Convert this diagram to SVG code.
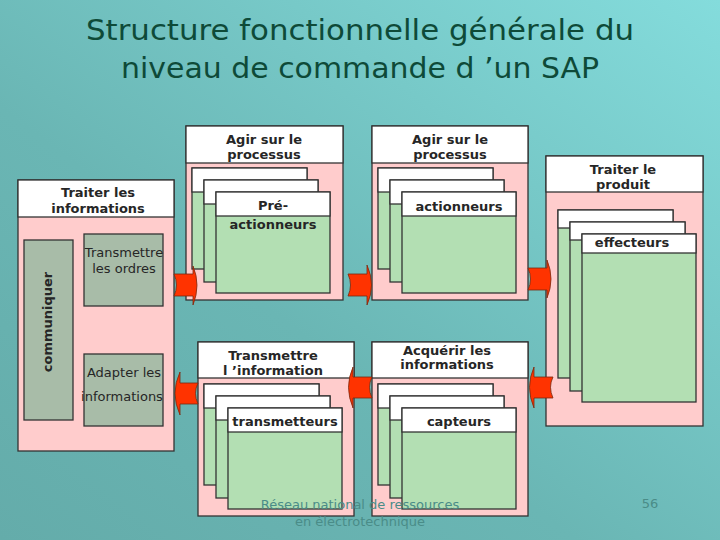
<svg xmlns="http://www.w3.org/2000/svg" width="720" height="540" viewBox="0 0 720 540">
<defs>
<linearGradient id="bg" x1="1" y1="0" x2="0" y2="1">
<stop offset="0" stop-color="#84dcdc"/>
<stop offset="0.6" stop-color="#6ab6b4"/>
<stop offset="1" stop-color="#64acaa"/>
</linearGradient>
<style>
.panel{fill:#ffcccc;stroke:#333;stroke-width:1.3}
.hdr{fill:#ffffff;stroke:#333;stroke-width:1.3}
.card{fill:#b3dfb3;stroke:#333;stroke-width:1.3}
.gray{fill:#a8bca8;stroke:#333;stroke-width:1.3}
.arrow{fill:#ff3300;stroke:#7a2a10;stroke-width:0.8}
text{font-family:"DejaVu Sans","Liberation Sans",sans-serif;fill:#262626}
.h{font-size:13px;font-weight:bold;text-anchor:middle}
.n{font-size:13px;text-anchor:middle}
.t{font-size:29px;fill:#0e4a38;text-anchor:middle}
.f{font-size:13px;fill:#4a8c88;text-anchor:middle}
</style>
<g id="cards">
<rect class="card" x="0" y="0" width="115" height="101"/>
<rect class="hdr" x="0" y="0" width="115" height="24"/>
<rect class="card" x="12" y="12" width="114" height="102"/>
<rect class="hdr" x="12" y="12" width="114" height="24"/>
<rect class="card" x="24" y="24" width="114" height="101"/>
<rect class="hdr" x="24" y="24" width="114" height="24"/>
</g>
</defs>
<rect width="720" height="540" fill="url(#bg)"/>
<text class="t" x="360" y="40" textLength="548" lengthAdjust="spacingAndGlyphs">Structure fonctionnelle générale du</text>
<text class="t" x="360" y="78" textLength="478" lengthAdjust="spacingAndGlyphs">niveau de commande d ’un SAP</text>

<g id="traiter-informations">
<rect class="panel" x="18" y="180" width="156" height="271"/>
<rect class="hdr" x="18" y="180" width="156" height="37"/>
<text class="h" x="98" y="197">Traiter les</text>
<text class="h" x="98" y="213">informations</text>
<rect class="gray" x="24" y="240" width="49" height="180"/>
<text class="h" transform="translate(52,322) rotate(-90)">communiquer</text>
<rect class="gray" x="84" y="234" width="79" height="72"/>
<text class="n" x="124" y="257">Transmettre</text>
<text class="n" x="124" y="273">les ordres</text>
<rect class="gray" x="84" y="354" width="79" height="72"/>
<text class="n" x="124" y="377">Adapter les</text>
<text class="n" x="122" y="401">informations</text>
</g>

<g id="agir-preactionneurs">
<rect class="panel" x="186" y="126" width="157" height="174"/>
<rect class="hdr" x="186" y="126" width="157" height="37"/>
<text class="h" x="264" y="144">Agir sur le</text>
<text class="h" x="264" y="159">processus</text>
<use href="#cards" x="192" y="168"/>
<text class="h" x="273" y="210">Pré-</text>
<text class="h" x="273" y="229">actionneurs</text>
</g>

<g id="agir-actionneurs">
<rect class="panel" x="372" y="126" width="156" height="174"/>
<rect class="hdr" x="372" y="126" width="156" height="37"/>
<text class="h" x="450" y="144">Agir sur le</text>
<text class="h" x="450" y="159">processus</text>
<use href="#cards" x="378" y="168"/>
<text class="h" x="459" y="211">actionneurs</text>
</g>

<g id="traiter-produit">
<rect class="panel" x="546" y="156" width="157" height="270"/>
<rect class="hdr" x="546" y="156" width="157" height="36"/>
<text class="h" x="623" y="174">Traiter le</text>
<text class="h" x="623" y="189">produit</text>
<rect class="card" x="558" y="210" width="115" height="168"/>
<rect class="hdr" x="558" y="210" width="115" height="18"/>
<rect class="card" x="570" y="222" width="115" height="169"/>
<rect class="hdr" x="570" y="222" width="115" height="18"/>
<rect class="card" x="582" y="234" width="114" height="168"/>
<rect class="hdr" x="582" y="234" width="114" height="19"/>
<text class="h" x="632" y="247">effecteurs</text>
</g>

<g id="transmettre-information">
<rect class="panel" x="198" y="342" width="156" height="174"/>
<rect class="hdr" x="198" y="342" width="156" height="36"/>
<text class="h" x="273" y="360">Transmettre</text>
<text class="h" x="273" y="375">l ’information</text>
<use href="#cards" x="204" y="384"/>
<text class="h" x="285" y="426">transmetteurs</text>
</g>

<g id="acquerir-informations">
<rect class="panel" x="372" y="342" width="156" height="174"/>
<rect class="hdr" x="372" y="342" width="156" height="36"/>
<text class="h" x="447" y="355">Acquérir les</text>
<text class="h" x="447" y="369">informations</text>
<use href="#cards" x="378" y="384"/>
<text class="h" x="459" y="426">capteurs</text>
</g>

<g id="connectors">
<path class="arrow" d="M174,274 L193,274 L193,266 Q201,285 193,305 L193,296 L174,296 Q179,285 174,274 Z"/>
<path class="arrow" d="M348,274 L367,274 L367,265 Q376,285 367,305 L367,296 L348,296 Q353,285 348,274 Z"/>
<path class="arrow" d="M528,268 L547,268 L547,260 Q555,279 547,298 L547,290 L528,290 Q533,279 528,268 Z"/>
<path class="arrow" d="M553,377 L534,377 L534,367 Q525,387 534,408 L534,398 L553,398 Q548,387 553,377 Z"/>
<path class="arrow" d="M372,377 L353,377 L353,367 Q344,387 353,408 L353,398 L372,398 Q367,387 372,377 Z"/>
<path class="arrow" d="M198,383 L180,383 L180,372 Q170,393 180,415 L180,404 L198,404 Q193,393 198,383 Z"/>
</g>

<text class="f" x="360" y="509">Réseau national de ressources</text>
<text class="f" x="360" y="526">en électrotechnique</text>
<text class="f" x="650" y="508">56</text>
</svg>
